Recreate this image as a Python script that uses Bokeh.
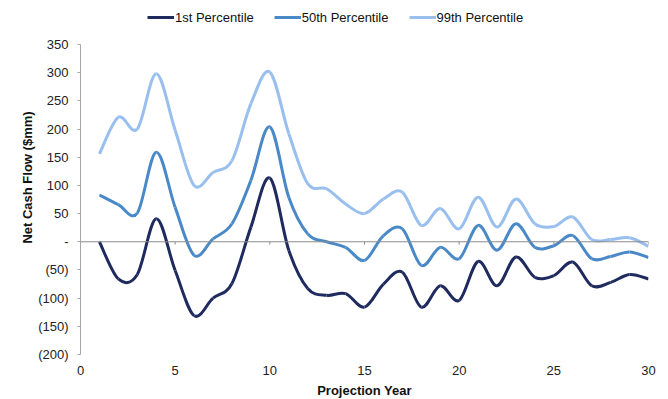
from bokeh.plotting import figure
from bokeh.models import Legend, LegendItem, Span, Range1d, FixedTicker
from bokeh.embed import file_html
from bokeh.resources import INLINE

# ---- data ----
years = list(range(1, 31))
p1 = [0, -66, -58, 41, -51, -131, -100, -74, 26, 113, -15, -83, -95, -92, -116,
      -75, -54, -116, -78, -104, -35, -78, -27, -63, -60, -36, -78, -72, -58, -66]
p50 = [83, 66, 51, 159, 61, -24, 5, 32, 109, 204, 79, 14, 0, -10, -33,
       11, 23, -42, -10, -30, 29, -15, 32, -10, -7, 11, -30, -26, -18, -28]
p99 = [156, 221, 200, 298, 198, 100, 123, 144, 245, 301, 192, 103, 94, 67, 50,
       76, 88, 29, 59, 23, 79, 26, 76, 32, 27, 44, 4, 4, 7, -8]
series_names = ["1st Percentile", "50th Percentile", "99th Percentile"]
colors = ["#1F2A5E", "#4A89C8", "#98BFEE"]
x_ticks = [0, 5, 10, 15, 20, 25, 30]
y_ticks = [-200, -150, -100, -50, 0, 50, 100, 150, 200, 250, 300, 350]


def ylabel(v):
    if v == 0:
        return "-"
    if v < 0:
        return "(%d)" % (-v)
    return "%d" % v


def smooth_segments(xs, ys):
    n = len(xs)
    out = dict(x0=[], y0=[], x1=[], y1=[], cx0=[], cy0=[], cx1=[], cy1=[])
    for i in range(n - 1):
        im1 = max(i - 1, 0)
        ip2 = min(i + 2, n - 1)
        out["x0"].append(xs[i]); out["y0"].append(ys[i])
        out["x1"].append(xs[i + 1]); out["y1"].append(ys[i + 1])
        out["cx0"].append(xs[i] + (xs[i + 1] - xs[im1]) / 6.0)
        out["cy0"].append(ys[i] + (ys[i + 1] - ys[im1]) / 6.0)
        out["cx1"].append(xs[i + 1] - (xs[ip2] - xs[i]) / 6.0)
        out["cy1"].append(ys[i + 1] - (ys[ip2] - ys[i]) / 6.0)
    return out


FONT = "Liberation Sans"

# plot area: y axis spans -200..350 over 310 px; frame extended upward to hold the legend
Y_MIN, Y_MAX = y_ticks[0], y_ticks[-1]
TOP_PAD_PX = 44
AXIS_PX = 310
y_top = Y_MAX + TOP_PAD_PX * (Y_MAX - Y_MIN) / AXIS_PX

p = figure(width=668, height=399, output_backend="svg", toolbar_location=None,
           x_range=Range1d(0, 30), y_range=Range1d(Y_MIN, y_top),
           min_border_left=80, min_border_right=20, min_border_top=0,
           min_border_bottom=45, frame_width=568, frame_height=AXIS_PX + TOP_PAD_PX)
p.outline_line_color = None
p.xgrid.grid_line_color = None
p.ygrid.grid_line_color = None
p.background_fill_color = "white"
p.border_fill_color = "white"

# y axis
p.yaxis.bounds = (Y_MIN, Y_MAX)
p.yaxis.ticker = FixedTicker(ticks=y_ticks)
p.yaxis.major_label_overrides = {v: ylabel(v) for v in y_ticks}
p.yaxis.axis_line_color = "#A6A6A6"
p.yaxis.major_tick_line_color = "#A6A6A6"
p.yaxis.major_tick_out = 3
p.yaxis.major_tick_in = 0
p.yaxis.minor_tick_line_color = None
p.yaxis.major_label_standoff = 9
p.yaxis.major_label_text_font = FONT
p.yaxis.major_label_text_font_size = "13px"
p.yaxis.major_label_text_color = "#222222"
p.yaxis.axis_label = "Net Cash Flow ($mm)"
p.yaxis.axis_label_text_font = FONT
p.yaxis.axis_label_text_font_style = "bold"
p.yaxis.axis_label_text_font_size = "13px"
p.yaxis.axis_label_text_color = "#111111"
p.yaxis.axis_label_standoff = 0

# x axis (labels only at bottom)
p.xaxis.ticker = FixedTicker(ticks=x_ticks)
p.xaxis.axis_line_color = None
p.xaxis.major_tick_line_color = None
p.xaxis.minor_tick_line_color = None
p.xaxis.major_label_standoff = 5
p.xaxis.major_label_text_font = FONT
p.xaxis.major_label_text_font_size = "13px"
p.xaxis.major_label_text_color = "#222222"
p.xaxis.axis_label = "Projection Year"
p.xaxis.axis_label_text_font = FONT
p.xaxis.axis_label_text_font_style = "bold"
p.xaxis.axis_label_text_font_size = "13px"
p.xaxis.axis_label_text_color = "#111111"
p.xaxis.axis_label_standoff = 5

# zero line with ticks
p.add_layout(Span(location=0, dimension="width", line_color="#8C8C8C", line_width=1))
p.segment(x0=x_ticks, y0=[0] * len(x_ticks), x1=x_ticks, y1=[-5] * len(x_ticks),
          line_color="#8C8C8C", line_width=1)

items = []
for name, ys, c in zip(series_names, [p1, p50, p99], colors):
    seg = smooth_segments(years, ys)
    r = p.bezier(source=seg, x0="x0", y0="y0", x1="x1", y1="y1",
                 cx0="cx0", cy0="cy0", cx1="cx1", cy1="cy1",
                 line_color=c, line_width=3)
    items.append(LegendItem(label=name, renderers=[r]))

legend = Legend(items=items, orientation="horizontal", location=(67, 329),
                border_line_alpha=0, background_fill_alpha=0,
                label_text_font=FONT, label_text_font_size="13px",
                label_text_color="#111111",
                glyph_width=27, glyph_height=16, label_height=16,
                label_standoff=1, spacing=20, padding=0, margin=0)
p.add_layout(legend, "center")

open("out.html", "w").write(file_html(p, INLINE))
